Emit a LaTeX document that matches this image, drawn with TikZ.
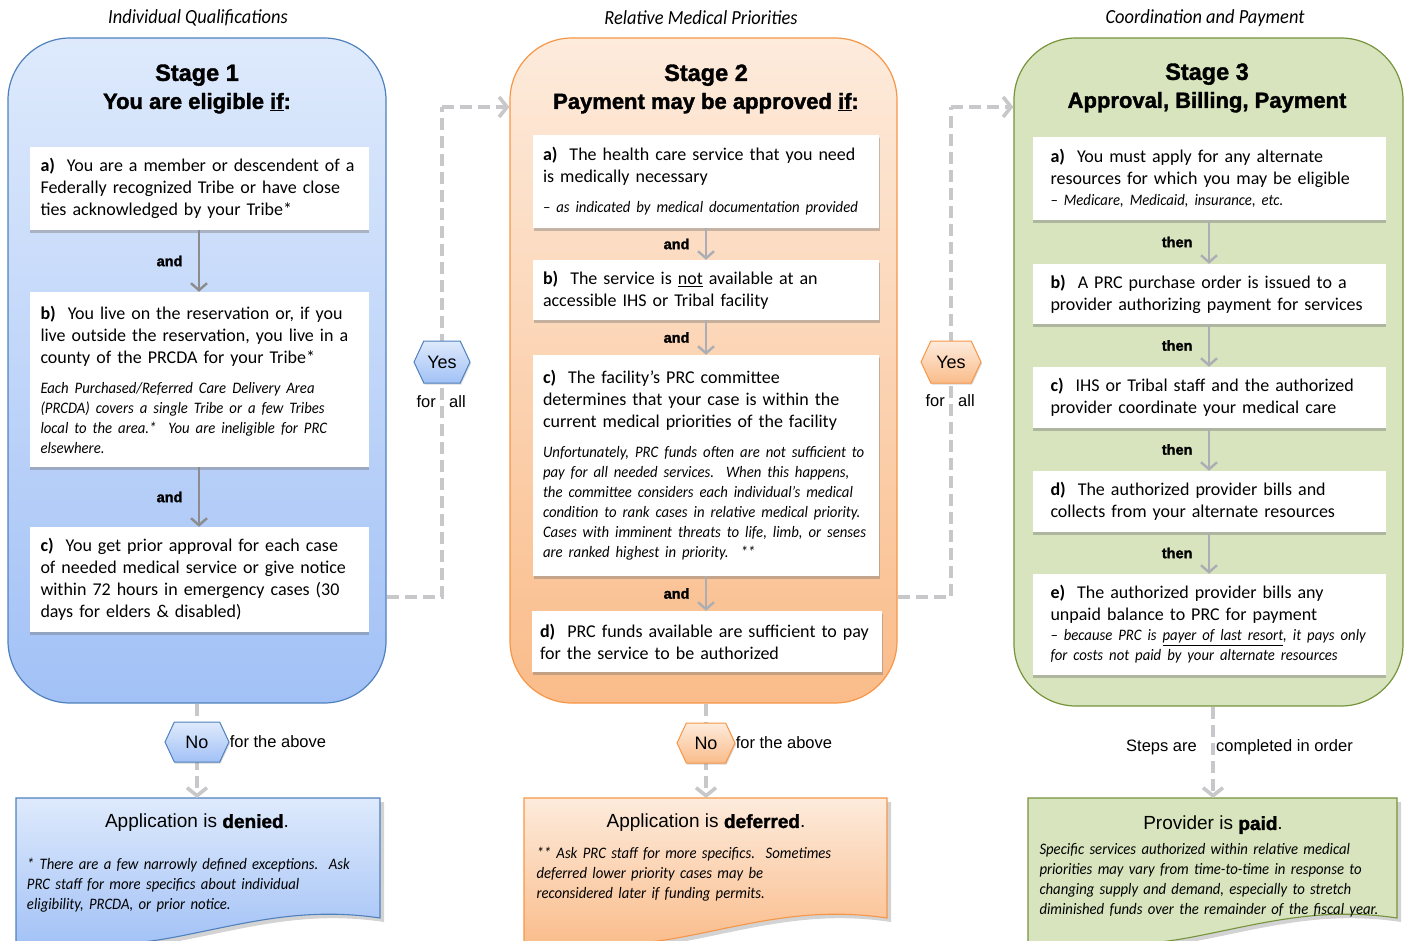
\documentclass[tikz,border=0pt]{standalone}
\usepackage{fontspec}
\setmainfont{Carlito}
\newfontfamily\notefont[FakeStretch=0.92]{Carlito}
\newfontfamily\arialfont{Liberation Sans}
\newfontfamily\blackfont[FakeBold=1.6]{Liberation Sans Bold}
\usetikzlibrary{arrows.meta,shadows,shapes.symbols}
\definecolor{blueline}{RGB}{79,129,189}
\definecolor{bluetop}{RGB}{222,234,252}
\definecolor{bluebot}{RGB}{162,193,246}
\definecolor{orangeline}{RGB}{247,150,70}
\definecolor{orangetop}{RGB}{253,235,220}
\definecolor{orangebot}{RGB}{250,188,138}
\definecolor{greenline}{RGB}{119,147,60}
\definecolor{greenfill}{RGB}{215,228,189}
\definecolor{dashgray}{RGB}{200,200,202}
\definecolor{stepgray}{RGB}{140,140,142}
\definecolor{steplight}{RGB}{172,174,182}
\newcommand{\noteface}{\notefont\itshape\fontsize{16}{20}\selectfont}
\newcommand{\arialtitle}{\upshape\arialfont\fontsize{19}{22}\selectfont}
\begin{document}
\begin{tikzpicture}[x=1pt, y=-1pt,
  coltitle/.style={font=\notefont\itshape\fontsize{20}{22}\selectfont},
  stagebox/.style={line width=1.2pt, rounded corners=62pt, inner sep=0pt},
  headline/.style={align=center, font=\blackfont\fontsize{22}{28}\selectfont},
  itembox/.style={fill=white, align=left, inner ysep=4pt, font=\fontsize{18}{22}\selectfont,
    drop shadow={shadow xshift=0.6pt, shadow yshift=-2.6pt, opacity=0.4, fill=black!55}},
  itemone/.style={itembox, text width=317pt, inner xsep=11pt},
  itemtwo/.style={itembox, text width=326pt, inner xsep=10pt},
  itemthree/.style={itembox, text width=317pt, inner xsep=18pt},
  joinlabel/.style={midway, left=12pt, font=\blackfont\fontsize{14.5}{18}\selectfont},
  stepone/.style={draw=stepgray, line width=2.4pt, -{Straight Barb[length=7pt,width=16pt]}},
  steptwo/.style={stepone, draw=steplight},
  dashflow/.style={draw=dashgray, line width=3.6pt, dash pattern=on 12pt off 6pt},
  dashtip/.style={dashflow, -{Straight Barb[length=8pt,width=20pt]}},
  hexbox/.style={signal, signal to=east and west, signal pointer angle=130, draw, line width=1pt,
    inner sep=0pt, font=\arialfont\fontsize{18}{20}\selectfont,
    drop shadow={shadow xshift=1pt, shadow yshift=-1.5pt, opacity=0.3}},
  forlabel/.style={inner sep=0pt, font=\arialfont\fontsize{16.5}{18}\selectfont},
  outbox/.style={line width=1.1pt, drop shadow={shadow xshift=4pt, shadow yshift=-4pt, opacity=0.35}},
  outtext/.style={anchor=north, align=left, inner xsep=12pt, inner ysep=16pt, font=\noteface}]
\useasboundingbox (0,0) rectangle (1408,940);

\node[coltitle] (T_1) at (198,18) {Individual Qualifications};
\node[coltitle] (T_2) at (701,18) {Relative Medical Priorities};
\node[coltitle] (T_3) at (1205,18) {Coordination and Payment};

\node[stagebox, draw=blueline, top color=bluetop, bottom color=bluebot, minimum width=378pt, minimum height=665pt] (S_1) at (197,370.5) {};
\node[stagebox, draw=orangeline, top color=orangetop, bottom color=orangebot, minimum width=387pt, minimum height=665pt] (S_2) at (703.5,370.5) {};
\node[stagebox, draw=greenline, fill=greenfill, minimum width=389pt, minimum height=668pt] (S_3) at (1208.5,372) {};

\node[headline] (H_1) at (197,89) {{\fontsize{23.5}{28}\selectfont Stage 1}\\You are eligible \underline{if}:};
\node[headline] (H_2) at (706,89) {{\fontsize{23.5}{28}\selectfont Stage 2}\\Payment may be approved \underline{if}:};
\node[headline] (H_3) at (1207,88) {{\fontsize{23.5}{28}\selectfont Stage 3}\\Approval, Billing, Payment};

\node[itemone, minimum height=83pt] (S_1_a) at (199,188.5) {\textbf{a)}\ \ You are a member or descendent of a\\Federally recognized Tribe or have close\\ties acknowledged by your Tribe*};
\node[itemone, minimum height=175pt] (S_1_b) at (199,379.5) {\textbf{b)}\ \ You live on the reservation or, if you\\live outside the reservation, you live in a\\county of the PRCDA for your Tribe*\par\vspace{10pt}{\noteface Each Purchased/Referred Care Delivery Area\\(PRCDA) covers a single Tribe or a few Tribes\\local to the area.*\ \ You are ineligible for PRC\\elsewhere.\par}};
\node[itemone, minimum height=105pt] (S_1_c) at (199,579.5) {\textbf{c)}\ \ You get prior approval for each case\\of needed medical service or give notice\\within 72 hours in emergency cases (30\\days for elders \& disabled)};
\draw[stepone] (S_1_a) -- (S_1_b) node[joinlabel] {and};
\draw[stepone] (S_1_b) -- (S_1_c) node[joinlabel] {and};

\node[itemtwo, minimum height=93pt] (S_2_a) at (706,181.5) {\textbf{a)}\ \ The health care service that you need\\is medically necessary\par\vspace{10pt}{\noteface – as indicated by medical documentation provided\par}};
\node[itemtwo, minimum height=60pt] (S_2_b) at (706,290) {\textbf{b)}\ \ The service is \underline{not} available at an\\accessible IHS or Tribal facility};
\node[itemtwo, minimum height=221pt] (S_2_c) at (706,465.5) {\textbf{c)}\ \ The facility’s PRC committee\\determines that your case is within the\\current medical priorities of the facility\par\vspace{10pt}{\noteface Unfortunately, PRC funds often are not sufficient to\\pay for all needed services.\ \ When this happens,\\the committee considers each individual’s medical\\condition to rank cases in relative medical priority.\\Cases with imminent threats to life, limb, or senses\\are ranked highest in priority.\ \ **\par}};
\node[itemtwo, text width=334pt, inner xsep=8pt, minimum height=61pt] (S_2_d) at (707,641.5) {\textbf{d)}\ \ PRC funds available are sufficient to pay\\for the service to be authorized};
\draw[steptwo] (S_2_a) -- (S_2_b) node[joinlabel] {and};
\draw[steptwo] (S_2_b) -- (S_2_c) node[joinlabel] {and};
\draw[steptwo] (S_2_c) -- (S_2_c |- S_2_d.north) node[joinlabel] {and};

\node[itemthree, minimum height=83pt] (S_3_a) at (1209,178.5) {\textbf{a)}\ \ You must apply for any alternate\\resources for which you may be eligible\par\vspace{1pt}{\noteface – Medicare, Medicaid, insurance, etc.\par}};
\node[itemthree, minimum height=60pt] (S_3_b) at (1209,294) {\textbf{b)}\ \ A PRC purchase order is issued to a\\provider authorizing payment for services};
\node[itemthree, minimum height=61pt] (S_3_c) at (1209,397.5) {\textbf{c)}\ \ IHS or Tribal staff and the authorized\\provider coordinate your medical care};
\node[itemthree, minimum height=61pt] (S_3_d) at (1209,501.5) {\textbf{d)}\ \ The authorized provider bills and\\collects from your alternate resources};
\node[itemthree, minimum height=101pt] (S_3_e) at (1209,624.5) {\textbf{e)}\ \ The authorized provider bills any\\unpaid balance to PRC for payment\par{\noteface – because PRC is \underline{payer of last resort}, it pays only\\for costs not paid by your alternate resources\par}};
\draw[steptwo] (S_3_a) -- (S_3_b) node[joinlabel] {then};
\draw[steptwo] (S_3_b) -- (S_3_c) node[joinlabel] {then};
\draw[steptwo] (S_3_c) -- (S_3_d) node[joinlabel] {then};
\draw[steptwo] (S_3_d) -- (S_3_e) node[joinlabel] {then};

\coordinate (C_1_0) at (442,597);
\coordinate (C_1_1) at (442,107);
\coordinate (C_2_0) at (951,597);
\coordinate (C_2_1) at (951,107);
\draw[dashflow] (S_1.east |- C_1_0) -- (C_1_0) -- (C_1_1);
\draw[dashtip] (C_1_1) -- (S_2.west |- C_1_1);
\draw[dashflow] (S_2.east |- C_2_0) -- (C_2_0) -- (C_2_1);
\draw[dashtip] (C_2_1) -- (S_3.west |- C_2_1);
\node[hexbox, draw=blueline, top color=bluetop, bottom color=bluebot, minimum width=56pt, minimum height=42pt] (Y_1) at (442,362) {Yes};
\node[hexbox, draw=orangeline, top color=orangetop, bottom color=orangebot, minimum width=60pt, minimum height=42pt] (Y_2) at (951,362) {Yes};
\node[forlabel, anchor=east] (F_1_0) at (436,402) {for};
\node[forlabel, anchor=west] (F_1_1) at (449,402) {all};
\node[forlabel, anchor=east] (F_2_0) at (945,401) {for};
\node[forlabel, anchor=west] (F_2_1) at (958,401) {all};

\draw[outbox, draw=blueline, top color=bluetop, bottom color=bluebot] (16,798) -- (380,798) -- (380,918) .. controls (300,906) and (240,925) .. (170,938) .. controls (120,947) and (60,948) .. (16,946) -- cycle;
\node[outtext, text width=340pt] (O_1) at (197,798) {\makebox[\linewidth]{\arialtitle Application is {\blackfont denied}.}\par\vspace{22pt}* There are a few narrowly defined exceptions.\ \ Ask\\PRC staff for more specifics about individual\\eligibility, PRCDA, or prior notice.\par};
\draw[outbox, draw=orangeline, top color=orangetop, bottom color=orangebot] (524,798) -- (887,798) -- (887,918) .. controls (807,906) and (747,925) .. (677,938) .. controls (627,947) and (567,948) .. (524,946) -- cycle;
\node[outtext, text width=339pt] (O_2) at (706,798) {\makebox[\linewidth]{\arialtitle Application is {\blackfont deferred}.}\par\vspace{11pt}** Ask PRC staff for more specifics.\ \ Sometimes\\deferred lower priority cases may be\\reconsidered later if funding permits.\par};
\draw[outbox, draw=greenline, fill=greenfill] (1028,798) -- (1397,798) -- (1397,918) .. controls (1317,906) and (1257,925) .. (1187,938) .. controls (1137,947) and (1077,948) .. (1028,946) -- cycle;
\node[outtext, text width=347pt, inner xsep=11pt, inner ysep=18pt] (O_3) at (1213,798) {\makebox[\linewidth]{\arialtitle Provider is {\blackfont paid}.}\par\vspace{5pt}Specific services authorized within relative medical\\priorities may vary from time-to-time in response to\\changing supply and demand, especially to stretch\\diminished funds over the remainder of the fiscal year.\par};

\draw[dashtip] (S_1.south) -- (O_1.north);
\draw[dashtip] (O_2.north |- S_2.south) -- (O_2.north);
\draw[dashtip] (O_3.north |- S_3.south) -- (O_3.north);
\node[hexbox, draw=blueline, top color=bluetop, bottom color=bluebot, minimum width=64pt, minimum height=40pt] (N_1) at (197,742) {No};
\node[hexbox, draw=orangeline, top color=orangetop, bottom color=orangebot, minimum width=58pt, minimum height=40pt] (N_2) at (706,743) {No};
\node[forlabel, anchor=west] (A_1) at (N_1.east) {for the above};
\node[forlabel, anchor=west] (A_2) at (N_2.east) {for the above};
\node[forlabel, anchor=east] (A_3_0) at (1197,747) {Steps are};
\node[forlabel, anchor=west] (A_3_1) at (1216,747) {completed in order};
\end{tikzpicture}
\end{document}
